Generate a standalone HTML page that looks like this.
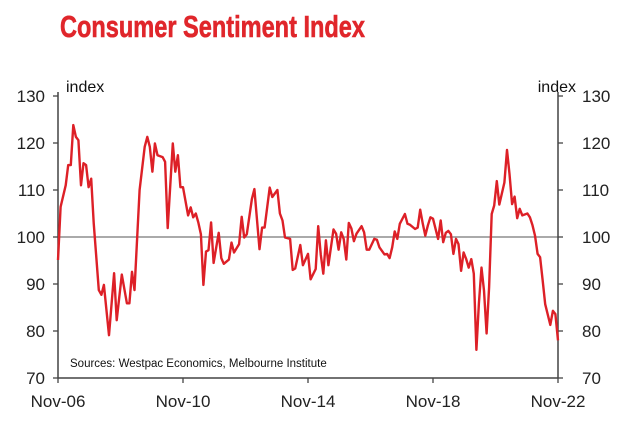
<!DOCTYPE html>
<html><head><meta charset="utf-8"><style>
body{margin:0;background:#fff;width:631px;height:426px;overflow:hidden;font-family:"Liberation Sans",sans-serif}
</style></head><body>
<svg width="631" height="426" xmlns="http://www.w3.org/2000/svg">
<text x="60" y="37" font-family="'Liberation Sans Narrow','Liberation Sans',sans-serif" font-weight="bold" font-size="31" fill="#e0262b" stroke="#e0262b" stroke-width="0.6" textLength="305" lengthAdjust="spacingAndGlyphs">Consumer Sentiment Index</text>
<g id="axes"></g>
<polyline id="line" fill="none" stroke="#dd2027" stroke-width="2.4" stroke-linejoin="round"/>
<text x="66" y="92" font-size="16" fill="#111">index</text>
<text x="576" y="92" font-size="16" fill="#111" text-anchor="end">index</text>
<text x="70" y="367" font-size="11.5" fill="#111">Sources: Westpac Economics, Melbourne Institute</text>
</svg>
<script>
const months=[0,1,3,4,5,6,7,8,9,10,11,12,13,14,16,17,18,20,22,23,25,27,28,29,30,32,34,35,36,37,38,39,41,42,43,45,46,47,48,49,51,52,53,54,55,56,57,58,59,60,61,63,64,65,67,68,69,71,72,73,74,76,77,79,80,81,83,84,86,87,88,89,91,92,93,95,96,98,99,101,102,103,104,105,106,108,109,110,111,112,113,114,115,116,117,119,120,121,122,124,125,126,128,129,130,131,132,133,134,136,137,138,140,141,142,143,144,145,146,147,149,150,151,152,153,154,155,156,157,158,159,160,161,162,163,164,165,166,167,168,169,170,171,172,173,175,176,177,178,179,180,181,182,184,185,186,187,188,189,190,191,193,194,195,196];
const values=[95.1,106.4,111,115.3,115.3,123.8,121.3,120.6,111,115.7,115.3,110.6,112.4,103,88.7,87.7,89.8,79.1,92.3,82.3,92,85.9,85.9,92.6,88.7,110,119.2,121.3,119.2,113.9,119.9,117.4,117,116,101.9,119.9,113.9,117.4,110.6,110.6,104.6,106.3,104.2,105,103.1,100.6,89.8,96.9,97.2,103.1,94.5,100.9,95.5,94.3,95.2,98.8,96.7,98.5,104.3,99.9,100.6,108.1,110.2,97.4,102,102,110.5,108.5,110,105,103.5,99.9,99.6,93,93.3,98.3,94,96.4,91,93.2,102.3,96.2,92.2,99.3,94,101.6,100.7,97.3,101,99.6,95.2,103,101.8,99.1,100.7,102.3,101,97.3,97.3,99.6,99.4,97.8,96.3,96.4,95.5,97.8,101.2,99.6,102.8,104.9,102.8,102.6,101.7,102,105.8,102.8,100.3,102.5,104.2,103.9,99.6,103.5,98.9,100.9,101.3,100.6,96.4,99.6,98.5,92.8,96.7,95.3,93.5,95.3,92.2,76,85.9,93.5,88.6,79.5,89.3,104.9,106.7,111.9,106.9,111.6,118.5,113.4,107,108.6,104,106,104.6,105,104.2,102.5,100.3,96.4,95.7,90.7,85.7,81.3,84.3,83.6,78];
const yTicks=[70,80,90,100,110,120,130];
const xTickLabels=["Nov-06","Nov-10","Nov-14","Nov-18","Nov-22"];
const xTickMonths=[0,49,98,147,196];
const X0=58,X1=558,Y0=378,Y1=96;
const xs=m=>X0+(m/196)*(X1-X0);
const ys=v=>Y0-(v-70)/60*(Y0-Y1);
const ns="http://www.w3.org/2000/svg";
const g=document.getElementById('axes');
function mk(t,a){const e=document.createElementNS(ns,t);for(const k in a)e.setAttribute(k,a[k]);g.appendChild(e);return e;}
let e;
e=mk('line',{x1:X0,y1:ys(100),x2:X1,y2:ys(100),stroke:'#777','stroke-width':1.3});


e=mk('line',{x1:X0,y1:Y1-4,x2:X0,y2:Y0,stroke:'#444','stroke-width':1.5});


e=mk('line',{x1:X1,y1:Y1-4,x2:X1,y2:Y0,stroke:'#444','stroke-width':1.5});


e=mk('line',{x1:X0,y1:Y0,x2:X1,y2:Y0,stroke:'#444','stroke-width':1.5});


yTicks.forEach(v=>{
 mk('line',{x1:X0-5,y1:ys(v),x2:X0,y2:ys(v),stroke:'#444','stroke-width':1.3});
 mk('line',{x1:X1,y1:ys(v),x2:X1+5,y2:ys(v),stroke:'#444','stroke-width':1.3});
 let t=mk('text',{x:45,y:ys(v)+6,'font-size':17,'text-anchor':'end',fill:'#222'});t.textContent=v;
 
 
 t=mk('text',{x:582,y:ys(v)+6,'font-size':17,fill:'#222'});t.textContent=v;
 
 
});
xTickMonths.forEach((m,i)=>{
 mk('line',{x1:xs(m),y1:Y0,x2:xs(m),y2:Y0+5,stroke:'#444','stroke-width':1.3});
 let t=mk('text',{x:xs(m),y:407,'font-size':17,'text-anchor':'middle',fill:'#222'});t.textContent=xTickLabels[i];
 
 
});
document.getElementById('line').setAttribute('points',months.map((m,i)=>xs(m).toFixed(1)+','+ys(values[i]).toFixed(1)).join(' '));
</script>
</body></html>
